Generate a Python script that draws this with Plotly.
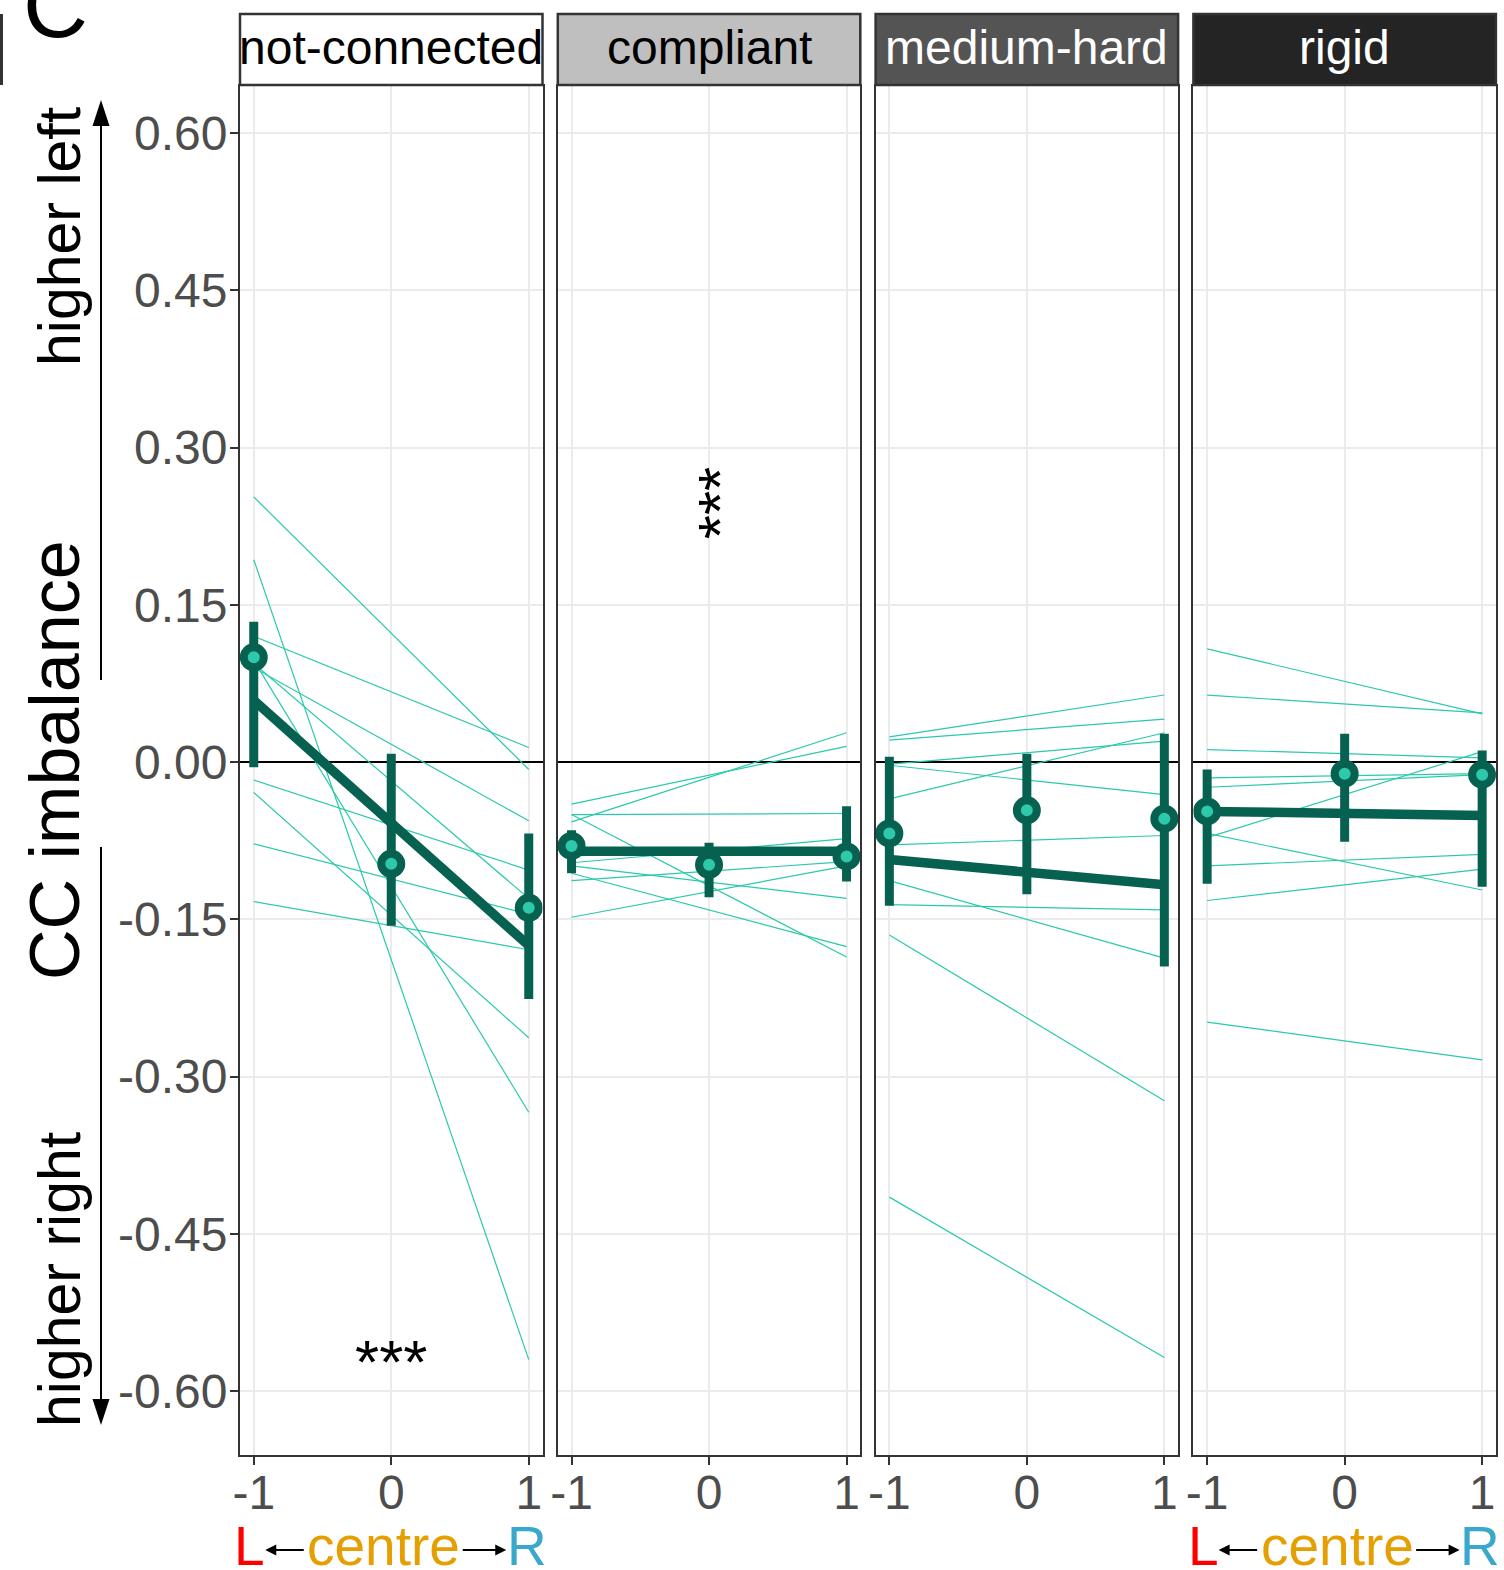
import plotly.graph_objects as go

# ---------------- data ----------------
conditions = ["not-connected", "compliant", "medium-hard", "rigid"]
positions = [-1, 0, 1]
pos_labels = ["-1", "0", "1"]

# individual subject lines (value at x=-1 and at x=1)
subj_left = {
    "not-connected": [0.253, 0.120, 0.193, 0.090, 0.094, 0.097, -0.017, -0.029, -0.078, -0.133],
    "compliant": [-0.057, -0.040, -0.050, -0.050, -0.106, -0.148, -0.113, -0.099, -0.096],
    "medium-hard": [0.024, 0.021, -0.002, -0.035, -0.003, -0.079, -0.113, -0.136, -0.165, -0.415],
    "rigid": [0.108, 0.064, 0.012, -0.015, -0.024, -0.072, -0.068, -0.099, -0.132, -0.248],
}
subj_right = {
    "not-connected": [-0.007, 0.014, -0.570, -0.056, -0.130, -0.334, -0.103, -0.263, -0.145, -0.179],
    "compliant": [0.028, 0.015, -0.049, -0.186, -0.176, -0.099, -0.095, -0.130, -0.073],
    "medium-hard": [0.064, 0.041, 0.020, 0.028, -0.031, -0.070, -0.187, -0.141, -0.323, -0.568],
    "rigid": [0.046, 0.047, 0.004, -0.011, -0.012, 0.010, -0.122, -0.088, -0.102, -0.284],
}

# group fit line (value at x=-1 and x=1)
fit_left = [0.059, -0.085, -0.093, -0.047]
fit_right = [-0.175, -0.085, -0.117, -0.051]

# group means with intervals at x = -1, 0, 1
mean_vals = {
    "not-connected": [0.100, -0.097, -0.139],
    "compliant": [-0.080, -0.098, -0.090],
    "medium-hard": [-0.068, -0.046, -0.054],
    "rigid": [-0.047, -0.011, -0.012],
}
ci_low = {
    "not-connected": [-0.005, -0.156, -0.226],
    "compliant": [-0.106, -0.129, -0.114],
    "medium-hard": [-0.137, -0.126, -0.195],
    "rigid": [-0.116, -0.076, -0.119],
}
ci_high = {
    "not-connected": [0.134, 0.008, -0.068],
    "compliant": [-0.065, -0.077, -0.042],
    "medium-hard": [0.005, 0.008, 0.027],
    "rigid": [-0.007, 0.027, 0.011],
}

y_ticks = [0.60, 0.45, 0.30, 0.15, 0.00, -0.15, -0.30, -0.45, -0.60]
y_ticklabels = ["0.60", "0.45", "0.30", "0.15", "0.00", "-0.15", "-0.30", "-0.45", "-0.60"]

strip_fill = ["#ffffff", "#bfbfbf", "#545454", "#242424"]
strip_text = ["black", "black", "white", "white"]

# ---------------- style ----------------
W, H = 1504, 1570
FONT = "Liberation Sans, Arial, Helvetica, sans-serif"
DARK = "#066150"
LIGHT = "#2ec8ab"
THIN = "#2ac9ab"
BORDER = "#333333"


def px_x(p):
    return p / W


def px_y(p):
    return 1 - p / H


panel_left = [240.0, 557.8, 875.6, 1193.4]
panel_w = 302.5
plot_top, plot_bot = 86, 1455

fig = go.Figure()
layout_axes = {}

for i, cond in enumerate(conditions):
    sfx = "" if i == 0 else str(i + 1)
    xa, ya = "x" + sfx, "y" + sfx
    for l, r in zip(subj_left[cond], subj_right[cond]):
        fig.add_trace(go.Scatter(x=[-1, 1], y=[l, r], mode="lines",
                                 line=dict(color=THIN, width=1.2),
                                 xaxis=xa, yaxis=ya, showlegend=False, hoverinfo="skip"))
    fig.add_trace(go.Scatter(x=[-1, 1], y=[fit_left[i], fit_right[i]], mode="lines",
                             line=dict(color=DARK, width=9.5),
                             xaxis=xa, yaxis=ya, showlegend=False))
    m = mean_vals[cond]
    plus = [h - v for h, v in zip(ci_high[cond], m)]
    minus = [v - lo for lo, v in zip(ci_low[cond], m)]
    fig.add_trace(go.Scatter(x=positions, y=m, mode="markers",
                             marker=dict(size=20, color=LIGHT, line=dict(color=DARK, width=8)),
                             error_y=dict(type="data", symmetric=False, array=plus, arrayminus=minus,
                                          color=DARK, thickness=9, width=0),
                             xaxis=xa, yaxis=ya, showlegend=False))

    x0 = panel_left[i]
    layout_axes["xaxis" + sfx] = dict(
        domain=[px_x(x0), px_x(x0 + panel_w)], range=[-1.1, 1.1],
        tickvals=positions, ticktext=pos_labels,
        showgrid=True, gridcolor="#ebebeb", gridwidth=2, zeroline=False,
        showline=True, mirror=True, linecolor=BORDER, linewidth=2,
        ticks="outside", ticklen=8, tickwidth=2, tickcolor=BORDER,
        ticklabelstandoff=-14,
        tickfont=dict(family=FONT, size=48, color="#4d4d4d"),
        anchor=ya, fixedrange=True, automargin=False)
    layout_axes["yaxis" + sfx] = dict(
        domain=[px_y(plot_bot), px_y(plot_top)], range=[-0.661, 0.645],
        tickvals=y_ticks, ticktext=y_ticklabels,
        showticklabels=(i == 0), ticks="outside" if i == 0 else "",
        ticklen=8, tickwidth=2, tickcolor=BORDER,
        ticklabelstandoff=-7,
        tickfont=dict(family=FONT, size=48, color="#4d4d4d"),
        showgrid=True, gridcolor="#ebebeb", gridwidth=2,
        zeroline=True, zerolinecolor="black", zerolinewidth=1.5,
        showline=True, mirror=True, linecolor=BORDER, linewidth=2,
        anchor=xa, fixedrange=True, automargin=False)

shapes = []
annotations = []

# strips
for i, cond in enumerate(conditions):
    x0 = panel_left[i]
    shapes.append(dict(type="rect", xref="paper", yref="paper",
                       x0=px_x(x0), x1=px_x(x0 + panel_w), y0=px_y(85), y1=px_y(14),
                       fillcolor=strip_fill[i], line=dict(color=BORDER, width=2.5), layer="above"))
    annotations.append(dict(text=cond, xref="paper", yref="paper",
                            x=px_x(x0 + panel_w / 2), y=px_y(48), xanchor="center", yanchor="middle",
                            showarrow=False, font=dict(family=FONT, size=48, color=strip_text[i])))

# left edge fragment of a previous panel
shapes.append(dict(type="line", xref="paper", yref="paper", x0=px_x(1.5), x1=px_x(1.5),
                   y0=px_y(85), y1=px_y(14), line=dict(color=BORDER, width=3)))

# axis direction arrows
ax_x = 101
shapes.append(dict(type="line", xref="paper", yref="paper", x0=px_x(ax_x), x1=px_x(ax_x),
                   y0=px_y(680), y1=px_y(120), line=dict(color="black", width=2)))
shapes.append(dict(type="path", xref="paper", yref="paper",
                   path=f"M {px_x(ax_x)},{px_y(100)} L {px_x(ax_x - 8.5)},{px_y(126)} L {px_x(ax_x + 8.5)},{px_y(126)} Z",
                   fillcolor="black", line=dict(color="black", width=0)))
shapes.append(dict(type="line", xref="paper", yref="paper", x0=px_x(ax_x), x1=px_x(ax_x),
                   y0=px_y(847), y1=px_y(1405), line=dict(color="black", width=2)))
shapes.append(dict(type="path", xref="paper", yref="paper",
                   path=f"M {px_x(ax_x)},{px_y(1425)} L {px_x(ax_x - 8.5)},{px_y(1399)} L {px_x(ax_x + 8.5)},{px_y(1399)} Z",
                   fillcolor="black", line=dict(color="black", width=0)))

# y axis titles
annotations.append(dict(text="CC imbalance", xref="paper", yref="paper", x=px_x(55), y=px_y(760),
                        textangle=-90, showarrow=False, xanchor="center", yanchor="middle",
                        font=dict(family=FONT, size=70, color="black")))
annotations.append(dict(text="higher left", xref="paper", yref="paper", x=px_x(60), y=px_y(237),
                        textangle=-90, showarrow=False, xanchor="center", yanchor="middle",
                        font=dict(family=FONT, size=59, color="black")))
annotations.append(dict(text="higher right", xref="paper", yref="paper", x=px_x(60), y=px_y(1280),
                        textangle=-90, showarrow=False, xanchor="center", yanchor="middle",
                        font=dict(family=FONT, size=59, color="black")))

# panel tag
annotations.append(dict(text="C", xref="paper", yref="paper", x=px_x(55), y=px_y(6),
                        showarrow=False, xanchor="center", yanchor="middle",
                        font=dict(family=FONT, size=90, color="black")))

# significance stars
annotations.append(dict(text="***", xref="x", yref="y", x=0, y=-0.559, yshift=-13,
                        showarrow=False, xanchor="center", yanchor="middle",
                        font=dict(family=FONT, size=62, color="black")))
annotations.append(dict(text="***", xref="x2", yref="y2", x=0, y=0.247, xshift=10,
                        textangle=-90, showarrow=False, xanchor="center", yanchor="middle",
                        font=dict(family=FONT, size=62, color="black")))

# L <- centre -> R labels (under first and last panel)
lcr_y = px_y(1546)
for pi in [0, 3]:
    cx = panel_left[pi] + panel_w / 2  # pixel of x=0
    for txt, off, col in [("L", -141.5, "#ff0000"), ("centre", -7.5, "#e69f00"), ("R", 135.5, "#3aa8cc")]:
        annotations.append(dict(text=txt, xref="paper", yref="paper", x=px_x(cx + off), y=lcr_y,
                                showarrow=False, xanchor="center", yanchor="middle",
                                font=dict(family=FONT, size=55, color=col)))
    for head, tail in [(-126, -86), (115, 70)]:
        annotations.append(dict(text="", xref="paper", yref="paper",
                                x=px_x(cx + head), y=px_y(1550),
                                ax=tail - head, ay=0, axref="pixel", ayref="pixel",
                                showarrow=True, arrowhead=2, arrowsize=1.1, arrowwidth=2,
                                arrowcolor="black"))

fig.update_layout(
    width=W, height=H, margin=dict(l=0, r=0, t=0, b=0, autoexpand=False),
    paper_bgcolor="white", plot_bgcolor="white",
    shapes=shapes, annotations=annotations, showlegend=False,
    **layout_axes,
)

fig.write_html("out.html", config={"displayModeBar": False},
               post_script="document.body.style.margin='0px';document.body.style.overflow='hidden';")
